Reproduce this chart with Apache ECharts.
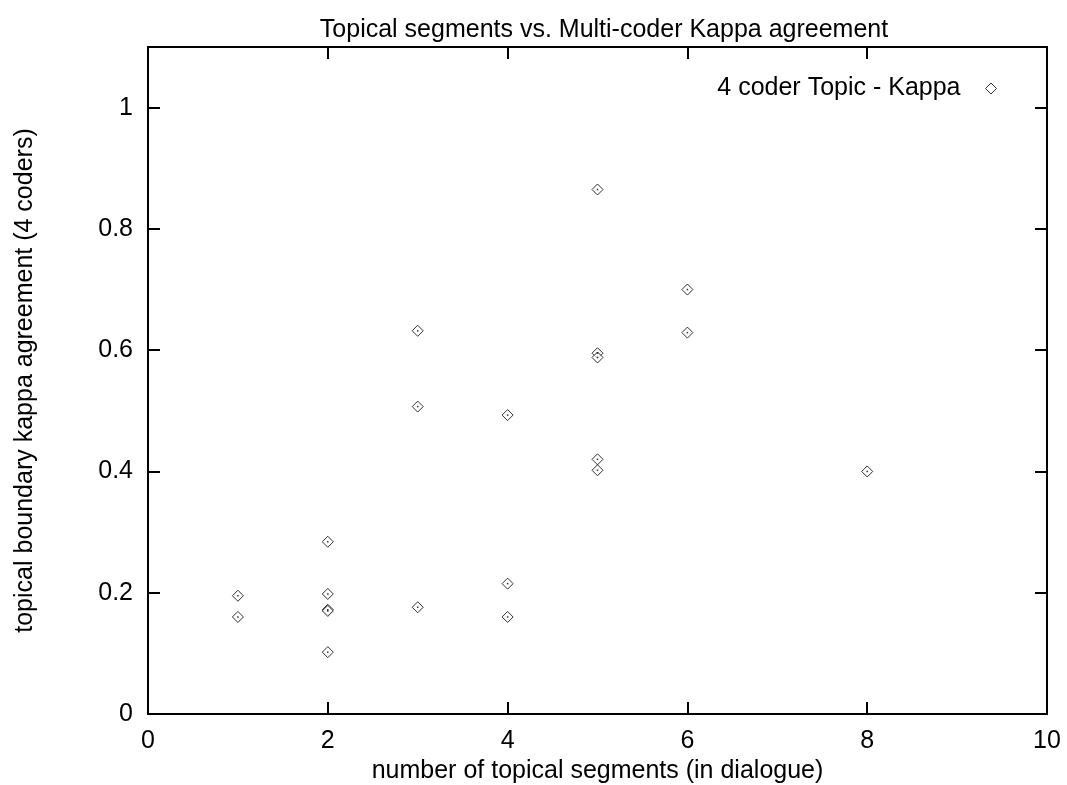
<!DOCTYPE html>
<html>
<head>
<meta charset="utf-8">
<script src="https://cdn.jsdelivr.net/npm/echarts@6/dist/echarts.min.js"></script>
<style>
	html, body { margin: 0; padding: 0; background: #fff; }
	#scatterChart { width: 1067px; height: 785px; }
</style>
</head>
<body>
<div id="scatterChart"></div>
<script>
// 数据：每个对话的主题段数 与 4人 kappa 一致度
var segments = [1, 1, 2, 2, 2, 2, 2, 3, 3, 3, 4, 4, 4, 5, 5, 5, 5, 5, 6, 6, 8];
var kappa = [0.195, 0.160, 0.284, 0.198, 0.172, 0.170, 0.102, 0.632, 0.507, 0.176,
	0.493, 0.215, 0.160, 0.865, 0.595, 0.588, 0.420, 0.402, 0.700, 0.629, 0.400];
var seriesName = '4 coder Topic - Kappa';
var xTicks = [0, 2, 4, 6, 8, 10];
var yTicks = [0, 0.2, 0.4, 0.6, 0.8, 1];

var font = 'Liberation Sans, Arial, sans-serif';
var fontSize = 25;

var points = [];
for (var i = 0; i < segments.length; i++) {
	points.push([segments[i], kappa[i]]);
}

var myChart = echarts.init(document.getElementById('scatterChart'));

// 坐标轴公共样式：黑线、刻度朝内、不贴零
function axisBase(extra) {
	var base = {
		type: 'value',
		axisLine: { show: true, onZero: false, lineStyle: { color: '#000', width: 2 } },
		axisTick: { show: true, inside: true, length: 12, lineStyle: { color: '#000', width: 2 } },
		splitLine: { show: false },
		axisLabel: { show: false }
	};
	for (var k in extra) base[k] = extra[k];
	return base;
}

var xRange = { min: xTicks[0], max: xTicks[xTicks.length - 1], interval: 2 };
var yRange = { min: yTicks[0], max: 1.1, interval: 0.2 };

var option = {
	animation: false,
	title: {
		text: 'Topical segments vs. Multi-coder Kappa agreement',
		left: 599,
		textAlign: 'center',
		top: 13,
		textStyle: { fontFamily: font, fontSize: fontSize, fontWeight: 'normal', color: '#000' }
	},
	legend: {
		data: [seriesName],
		right: 65,
		top: 71,
		align: 'right',
		itemWidth: 11,
		itemHeight: 11,
		itemStyle: { color: '#fff', borderColor: '#000', borderWidth: 1 },
		textStyle: { fontFamily: font, fontSize: fontSize, color: '#000', padding: [0, 20, 0, 0] }
	},
	// 固定绘图区，不让标签挤压网格
	grid: { left: 148, right: 20, top: 47, bottom: 71, outerBoundsMode: 'none' },
	xAxis: [
		axisBase({
			min: xRange.min, max: xRange.max, interval: xRange.interval,
			position: 'bottom',
			name: 'number of topical segments (in dialogue)',
			nameLocation: 'middle',
			nameGap: 38,
			nameTextStyle: { fontFamily: font, fontSize: fontSize, color: '#000' },
			axisLabel: { show: true, margin: 15, fontFamily: font, fontSize: fontSize, color: '#000' }
		}),
		axisBase({ min: xRange.min, max: xRange.max, interval: xRange.interval, position: 'top' })
	],
	yAxis: [
		axisBase({
			min: yRange.min, max: yRange.max, interval: yRange.interval,
			position: 'left',
			name: 'topical boundary kappa agreement (4 coders)',
			nameLocation: 'middle',
			nameGap: 110,
			nameTextStyle: { fontFamily: font, fontSize: fontSize, color: '#000' },
			axisLabel: {
				show: true, margin: 15, fontFamily: font, fontSize: fontSize, color: '#000',
				showMaxLabel: false
			}
		}),
		axisBase({ min: yRange.min, max: yRange.max, interval: yRange.interval, position: 'right' })
	],
	series: [{
		name: seriesName,
		type: 'scatter',
		symbol: 'diamond',
		symbolSize: 11,
		itemStyle: { color: '#fff', borderColor: '#000', borderWidth: 1 },
		data: points,
		z: 2
	}, {
		// 菱形中心的小点
		name: 'center',
		type: 'scatter',
		symbol: 'rect',
		symbolSize: 1.5,
		itemStyle: { color: '#000' },
		silent: true,
		data: points,
		z: 3
	}]
};

myChart.setOption(option);
</script>
</body>
</html>
